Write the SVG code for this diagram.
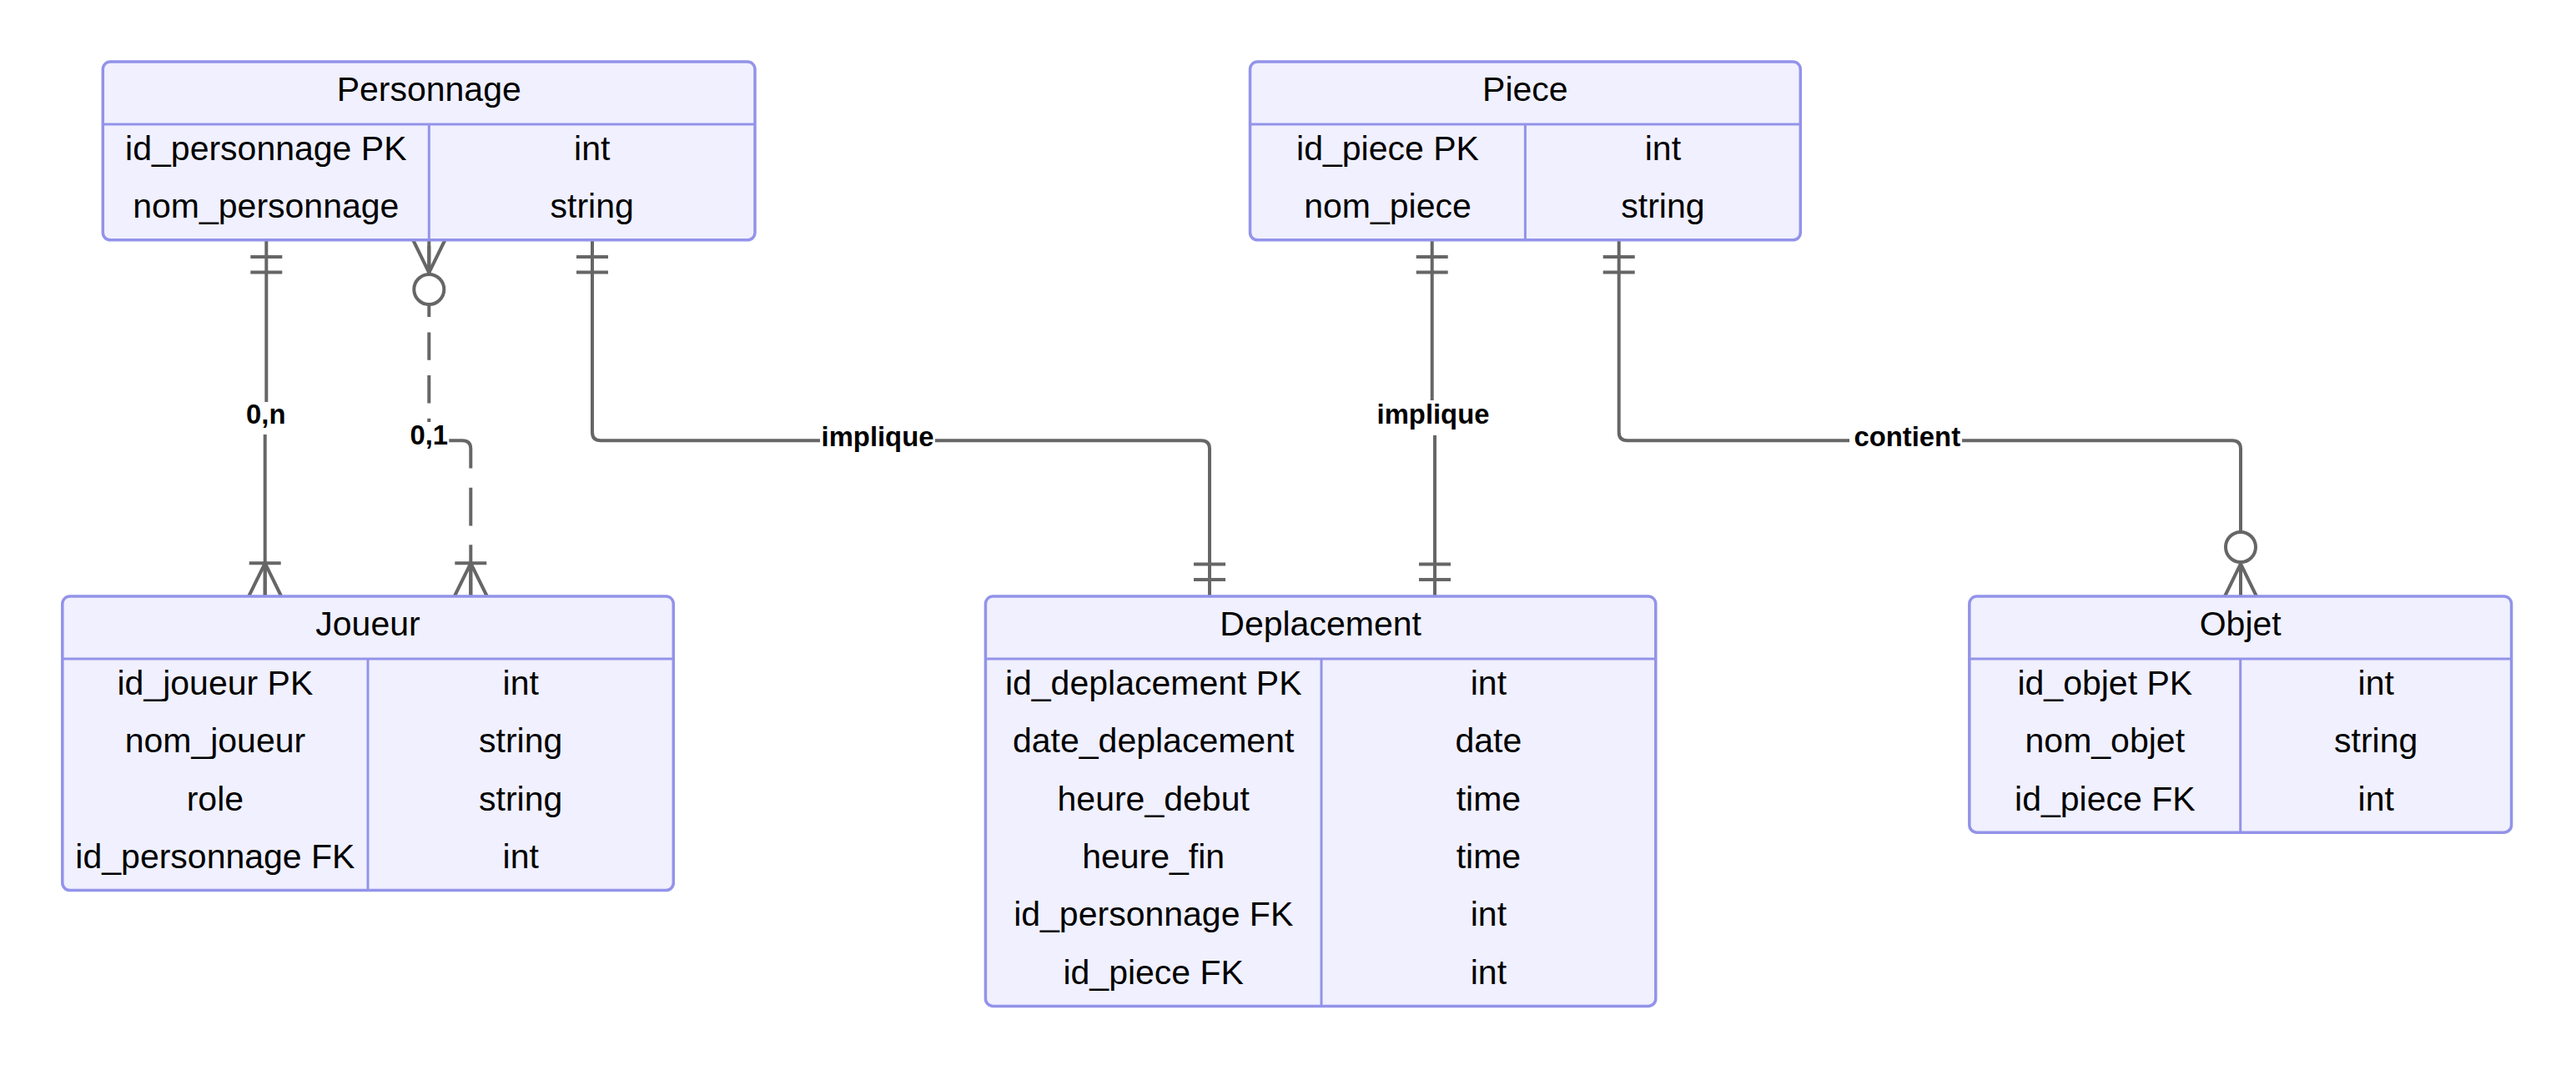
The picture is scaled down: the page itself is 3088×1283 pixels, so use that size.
<svg xmlns="http://www.w3.org/2000/svg" width="3088" height="1283" viewBox="0 0 3088 1283">
<style>
.bg{fill:#ffffff}
.box{fill:#F0F0FF;stroke:#9393EA;stroke-width:3.5}
.div{stroke:#9393EA;stroke-width:3;fill:none}
.t{font-family:"Liberation Sans",Arial,sans-serif;font-size:41px;fill:#000;text-anchor:middle}
.rel{fill:none;stroke:#666666;stroke-width:4}
.dash1{stroke-dasharray:33.4 18.3;stroke-dashoffset:44.7}
.dash2{stroke-dasharray:55.4 23.3 45.7 22.6 70}
.mk{fill:none;stroke:#666666;stroke-width:4}
.mkc{fill:#ffffff;stroke:#666666;stroke-width:4}
.lb{fill:#ffffff}
.lt{font-family:"Liberation Sans",Arial,sans-serif;font-size:32.8px;font-weight:bold;fill:#000;text-anchor:middle}
</style>
<defs>
<marker id="onlyOne" markerUnits="userSpaceOnUse" orient="auto-start-reverse" refX="0" refY="0" markerWidth="80" markerHeight="80" overflow="visible">
<path class="mk" d="M-20,-19 V19 M-38.5,-19 V19"/>
</marker>
<marker id="oneOrMore" markerUnits="userSpaceOnUse" orient="auto-start-reverse" refX="0" refY="0" markerWidth="80" markerHeight="80" overflow="visible">
<path class="mk" d="M-39.7,-19 V19 M0,-19.5 L-39.7,0 L0,19.5 M0,0 H-39.7"/>
</marker>
<marker id="zeroOrMore" markerUnits="userSpaceOnUse" orient="auto-start-reverse" refX="0" refY="0" markerWidth="100" markerHeight="100" overflow="visible">
<path class="mk" d="M0,-19 L-39,0 L0,19 M0,0 H-39"/>
<circle class="mkc" cx="-59" cy="0" r="18"/>
</marker>
</defs>
<rect class="bg" x="0" y="0" width="3088" height="1283"/>
<g id="connectors">
<g id="rel-personnage-joueur-0n">
<path class="rel" d="M319.3,288 V500 H317.7 V715" marker-start="url(#onlyOne)" marker-end="url(#oneOrMore)"/>
<rect class="lb" x="293" y="482" width="52" height="39"/>
<text class="lt" x="318.8" y="508">0,n</text>
</g>
<g id="rel-personnage-joueur-01">
<path class="rel dash1" d="M514.3,288 V508" marker-start="url(#zeroOrMore)"/>
<path class="rel dash2" d="M538.3,528.3 H554.3 Q564.3,528.3 564.3,538.3 V715" marker-end="url(#oneOrMore)"/>
<rect class="lb" x="490" y="506" width="48" height="40"/>
<text class="lt" x="514.3" y="532.7">0,1</text>
</g>
<g id="rel-personnage-deplacement">
<path class="rel" d="M710,288 V518.3 Q710,528.3 720,528.3 H1440 Q1450,528.3 1450,538.3 V715" marker-start="url(#onlyOne)" marker-end="url(#onlyOne)"/>
<rect class="lb" x="983" y="508" width="138" height="40"/>
<text class="lt" x="1052" y="535">implique</text>
</g>
<g id="rel-piece-deplacement">
<path class="rel" d="M1716.7,288 V501 H1720 V715" marker-start="url(#onlyOne)" marker-end="url(#onlyOne)"/>
<rect class="lb" x="1648" y="480" width="140" height="42"/>
<text class="lt" x="1718" y="508.3">implique</text>
</g>
<g id="rel-piece-objet">
<path class="rel" d="M1940.7,288 V518.3 Q1940.7,528.3 1950.7,528.3 H2676 Q2686,528.3 2686,538.3 V715" marker-start="url(#onlyOne)" marker-end="url(#zeroOrMore)"/>
<rect class="lb" x="2217" y="508" width="135" height="40"/>
<text class="lt" x="2286.3" y="535">contient</text>
</g>
</g>
<g id="Personnage">
<rect class="box" x="123.3" y="74" width="781.7" height="213.8" rx="9"/>
<path class="div" d="M123.3,149 H905 M514.3,149 V287.8"/>
<text class="t" x="514.2" y="121">Personnage</text>
<text class="t" x="318.8" y="191.7">id_personnage PK</text>
<text class="t" x="709.7" y="191.7">int</text>
<text class="t" x="318.8" y="261">nom_personnage</text>
<text class="t" x="709.7" y="261">string</text>
</g>
<g id="Piece">
<rect class="box" x="1498.5" y="74" width="659.8" height="213.8" rx="9"/>
<path class="div" d="M1498.5,149 H2158.3 M1828.4,149 V287.8"/>
<text class="t" x="1828.4" y="121">Piece</text>
<text class="t" x="1663.5" y="191.7">id_piece PK</text>
<text class="t" x="1993.4" y="191.7">int</text>
<text class="t" x="1663.5" y="261">nom_piece</text>
<text class="t" x="1993.4" y="261">string</text>
</g>
<g id="Joueur">
<rect class="box" x="74.8" y="715" width="732.5" height="352.6" rx="9"/>
<path class="div" d="M74.8,790 H807.3 M441,790 V1067.6"/>
<text class="t" x="441" y="762">Joueur</text>
<text class="t" x="257.9" y="832.7">id_joueur PK</text>
<text class="t" x="624.2" y="832.7">int</text>
<text class="t" x="257.9" y="902.1">nom_joueur</text>
<text class="t" x="624.2" y="902.1">string</text>
<text class="t" x="257.9" y="971.5">role</text>
<text class="t" x="624.2" y="971.5">string</text>
<text class="t" x="257.9" y="1040.9">id_personnage FK</text>
<text class="t" x="624.2" y="1040.9">int</text>
</g>
<g id="Deplacement">
<rect class="box" x="1181.4" y="715" width="803.4" height="491.4" rx="9"/>
<path class="div" d="M1181.4,790 H1984.8 M1584,790 V1206.4"/>
<text class="t" x="1583.1" y="762">Deplacement</text>
<text class="t" x="1382.7" y="832.7">id_deplacement PK</text>
<text class="t" x="1784.4" y="832.7">int</text>
<text class="t" x="1382.7" y="902.1">date_deplacement</text>
<text class="t" x="1784.4" y="902.1">date</text>
<text class="t" x="1382.7" y="971.5">heure_debut</text>
<text class="t" x="1784.4" y="971.5">time</text>
<text class="t" x="1382.7" y="1040.9">heure_fin</text>
<text class="t" x="1784.4" y="1040.9">time</text>
<text class="t" x="1382.7" y="1110.3">id_personnage FK</text>
<text class="t" x="1784.4" y="1110.3">int</text>
<text class="t" x="1382.7" y="1179.7">id_piece FK</text>
<text class="t" x="1784.4" y="1179.7">int</text>
</g>
<g id="Objet">
<rect class="box" x="2360.8" y="715" width="649.8" height="283.2" rx="9"/>
<path class="div" d="M2360.8,790 H3010.6 M2685.7,790 V998.2"/>
<text class="t" x="2685.7" y="762">Objet</text>
<text class="t" x="2523.3" y="832.7">id_objet PK</text>
<text class="t" x="2848.2" y="832.7">int</text>
<text class="t" x="2523.3" y="902.1">nom_objet</text>
<text class="t" x="2848.2" y="902.1">string</text>
<text class="t" x="2523.3" y="971.5">id_piece FK</text>
<text class="t" x="2848.2" y="971.5">int</text>
</g>
</svg>
